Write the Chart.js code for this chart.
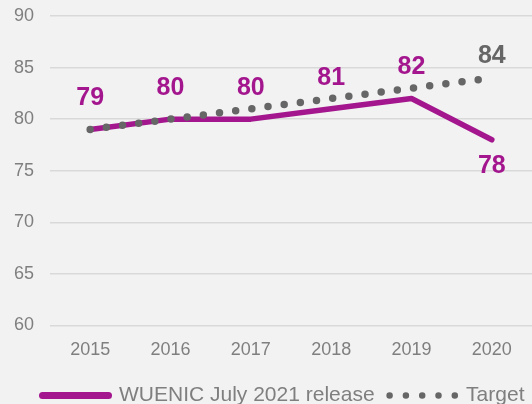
<!DOCTYPE html>
<html>
<head>
<meta charset="utf-8">
<script src="https://cdn.jsdelivr.net/npm/chart.js@4/dist/chart.umd.min.js"></script>
<style>
  html, body { margin: 0; padding: 0; background: #f2f2f2; }
  #wrap { width: 532px; height: 404px; }
</style>
</head>
<body>
<div id="wrap"><canvas id="c" width="532" height="404"></canvas></div>
<script>
const years = ['2015', '2016', '2017', '2018', '2019', '2020'];
const wuenic = [79, 80, 80, 81, 82, 78];
const target = [79, 80, 81, 82, 83, 84];
const yTicks = [60, 65, 70, 75, 80, 85, 90];

const PURPLE = '#a3168e';
const GREY = '#666666';
const FONT = "'Liberation Sans', Arial, sans-serif";

const labelPlugin = {
  id: 'pointLabels',
  afterDatasetsDraw(chart) {
    const ctx = chart.ctx;
    chart.data.datasets.forEach((ds, di) => {
      const cfg = ds.pointLabels;
      if (!cfg) return;
      const meta = chart.getDatasetMeta(di);
      meta.data.forEach((pt, i) => {
        if (!cfg.show(i)) return;
        const off = cfg.offset(i);
        ctx.save();
        ctx.font = 'bold 25px ' + FONT;
        ctx.fillStyle = cfg.color;
        ctx.textAlign = 'center';
        ctx.textBaseline = 'middle';
        ctx.fillText(String(ds.data[i]), pt.x, pt.y + off);
        ctx.restore();
      });
    });
  }
};

// nudges the legend block so it sits like the original
const legendInset = {
  id: 'legendInset',
  afterLayout(chart) {
    const lg = chart.legend;
    lg.left += 27.5;
    lg.right += 27.5;
    lg.top += 3;
    lg.bottom += 3;
  }
};

new Chart(document.getElementById('c'), {
  type: 'line',
  data: {
    labels: years,
    datasets: [
      {
        label: 'WUENIC July 2021 release',
        data: wuenic,
        borderColor: PURPLE,
        backgroundColor: PURPLE,
        borderWidth: 5.5,
        borderCapStyle: 'round',
        borderJoinStyle: 'round',
        pointRadius: 0,
        tension: 0,
        order: 1,
        legendWidth: 7,
        pointLabels: {
          color: PURPLE,
          show: () => true,
          offset: (i) => i === wuenic.length - 1 ? 26 : -31
        }
      },
      {
        label: 'Target',
        data: target,
        borderColor: GREY,
        backgroundColor: GREY,
        borderWidth: 7.5,
        borderDash: [0, 16.3],
        borderCapStyle: 'round',
        pointRadius: 0,
        tension: 0,
        order: 0,
        legendWidth: 6.5,
        pointLabels: {
          color: GREY,
          show: (i) => i === target.length - 1,
          offset: () => -22
        }
      }
    ]
  },
  options: {
    responsive: false,
    devicePixelRatio: 1,
    animation: false,
    layout: { padding: { top: 16, right: 0, left: 0, bottom: -9 } },
    plugins: {
      tooltip: { enabled: false },
      legend: {
        position: 'bottom',
        align: 'start',
        labels: {
          usePointStyle: true,
          pointStyle: 'line',
          pointStyleWidth: 66,
          boxHeight: 20,
          padding: 15,
          color: '#7f7f7f',
          font: { family: FONT, size: 21 },
          generateLabels: (chart) => chart.data.datasets.map((ds, i) => ({
            text: ds.label,
            datasetIndex: i,
            fillStyle: ds.borderColor,
            strokeStyle: ds.borderColor,
            fontColor: '#7f7f7f',
            lineWidth: ds.legendWidth,
            lineCap: 'round',
            lineDash: ds.borderDash || [],
            lineDashOffset: 0,
            pointStyle: 'line',
            hidden: false
          }))
        }
      }
    },
    scales: {
      x: {
        offset: true,
        grid: { display: false },
        border: { display: false },
        ticks: {
          color: '#7f7f7f',
          font: { family: FONT, size: 18 },
          padding: 6
        }
      },
      y: {
        min: 60,
        max: 90,
        afterFit: (s) => { s.width = 50; s.paddingTop = 0; },
        afterBuildTicks: (s) => { s.ticks = yTicks.map(v => ({ value: v })); },
        grid: { color: '#d9d9d9', lineWidth: 1.5, drawTicks: false },
        border: { display: false },
        ticks: {
          color: '#7f7f7f',
          font: { family: FONT, size: 18 },
          padding: 16
        }
      }
    }
  },
  plugins: [labelPlugin, legendInset]
});
</script>
</body>
</html>
